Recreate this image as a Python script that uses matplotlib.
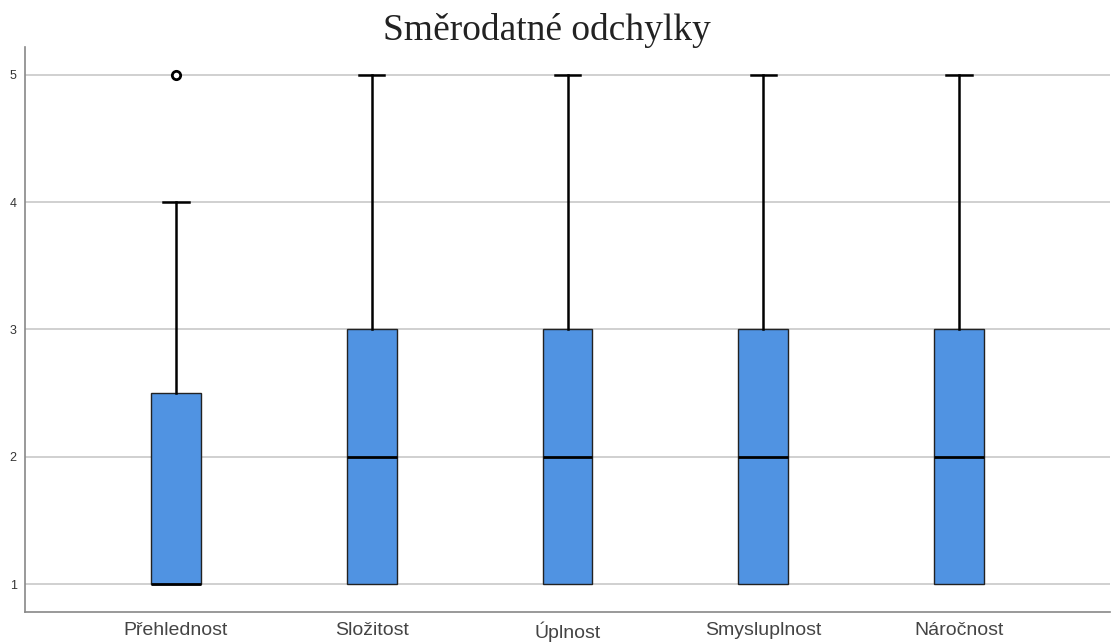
import matplotlib
matplotlib.use("Agg")
import matplotlib.pyplot as plt

categories = ["Přehlednost", "Složitost", "Úplnost", "Smysluplnost", "Náročnost"]
whislo = [1, 1, 1, 1, 1]
q1 = [1, 1, 1, 1, 1]
med = [1, 2, 2, 2, 2]
q3 = [2.5, 3, 3, 3, 3]
whishi = [4, 5, 5, 5, 5]
fliers = [[5], [], [], [], []]
yticks = [1, 2, 3, 4, 5]

stats = []
for i, c in enumerate(categories):
    stats.append(dict(label=c, whislo=whislo[i], q1=q1[i], med=med[i], q3=q3[i],
                      whishi=whishi[i], fliers=fliers[i]))

fig = plt.figure(figsize=(11.12, 6.43), dpi=100)
ax = fig.add_axes([25/1112, 1 - 612/643, (1110-25)/1112, (612-47)/643])

ax.set_axisbelow(True)
ax.yaxis.grid(True, color="#c8c8c8", lw=1.2)
res = ax.bxp(stats, positions=range(len(categories)), widths=0.255, patch_artist=True,
             boxprops=dict(facecolor="#5093e2", edgecolor="#222222", lw=1.0),
             medianprops=dict(color="black", lw=2),
             whiskerprops=dict(color="black", lw=1.8),
             capprops=dict(color="black", lw=1.8),
             capwidths=0.13,
             flierprops=dict(marker="o", markersize=6, markerfacecolor="white",
                             markeredgecolor="black", markeredgewidth=2))
# lower caps coincide with the box bottom (whislo == q1): hide them
for i in range(len(categories)):
    if whislo[i] == q1[i]:
        res["caps"][2 * i].set_visible(False)

ax.set_xlim(-0.77, 4.77)
ax.set_ylim(0.78, 5.22)
ax.set_yticks(yticks)
ax.set_yticklabels([str(v) for v in yticks], fontsize=9, color="#333333",
                   family="Liberation Sans")
ax.set_xticks(range(len(categories)))
ax.set_xticklabels(categories, fontsize=14, color="#444444", family="Liberation Sans")
ax.tick_params(axis="both", length=0)
ax.tick_params(axis="x", pad=7)
ax.tick_params(axis="y", pad=6)
for s in ["top", "right"]:
    ax.spines[s].set_visible(False)
for s in ["left", "bottom"]:
    ax.spines[s].set_color("#888888")
    ax.spines[s].set_linewidth(1.2)

fig.text(547/1112, 1 - 31/643, "Směrodatné odchylky", ha="center", va="center",
         fontsize=27, family="Liberation Serif", color="#222222")

fig.savefig("out.png", dpi=100)
